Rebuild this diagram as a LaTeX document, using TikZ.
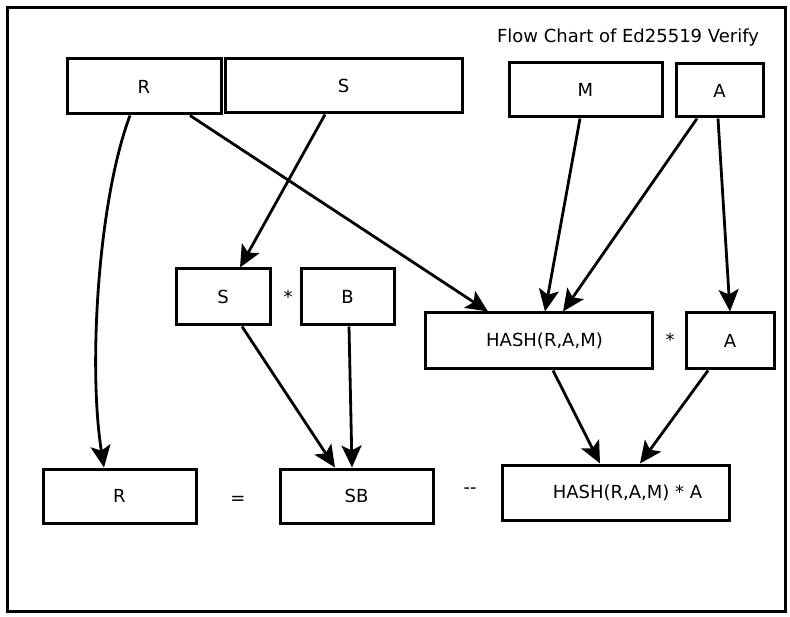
\documentclass[tikz,border=0pt]{standalone}
\usepackage{fontspec}
\setmainfont{DejaVu Sans}
\usetikzlibrary{arrows.meta,calc}
\begin{document}
\begin{tikzpicture}[x=1pt,y=-1pt,
  box/.style={draw,line width=3pt,inner sep=0pt,font=\fontsize{18}{21}\selectfont},
  lbl/.style={inner sep=0pt,font=\fontsize{18}{21}\selectfont},
  arr/.style={line width=2.8pt,-{Stealth[length=22pt,width=20pt,inset=5pt]}}]
\useasboundingbox (0,0) rectangle (790,617);
\draw[line width=3pt] (7,8) rectangle (785,611);
\node[lbl] (title) at (628,38) {Flow Chart of Ed25519 Verify};
% top row
\node[box,minimum width=154pt,minimum height=55pt] (Rt) at (144,86.5) {R};
\node[box,minimum width=237pt,minimum height=54pt] (St) at (343.5,86) {S};
\node[box,minimum width=153pt,minimum height=54pt] (M) at (585.5,90) {M};
\node[box,minimum width=87pt,minimum height=53pt] (At) at (719.5,90.5) {A};
% middle row
\node[box,minimum width=94pt,minimum height=56pt] (Sm) at (223,297) {S};
\node[lbl] (star1) at (288,297) {*};
\node[box,minimum width=93pt,minimum height=56pt] (B) at (347.5,297) {B};
\node[box,minimum width=227pt,minimum height=56pt] (H) at (538.5,341) {\hspace{12pt}HASH(R,A,M)};
\node[lbl] (star2) at (670,340) {*};
\node[box,minimum width=88pt,minimum height=56pt] (Ar) at (730,341) {A};
% bottom row
\node[box,minimum width=153pt,minimum height=54pt] (Rb) at (119.5,496) {R};
\node[lbl] (eq) at (238,500) {=};
\node[box,minimum width=153pt,minimum height=54pt] (SB) at (356.5,496) {SB};
\node[lbl] (dd) at (470,491) {-{}-};
\node[box,minimum width=227pt,minimum height=55pt] (HA) at (615.5,492.5) {\hspace{24pt}HASH(R,A,M) * A};
% connectors
\draw[arr] ([xshift=-14pt]Rt.south) .. controls +(-32,85) and +(-16,-100) .. ([xshift=-15.5pt]Rb.north);
\draw[arr] ([xshift=46pt]Rt.south) -- ([xshift=-50.5pt]H.north);
\draw[arr] ([xshift=-18.5pt]St.south) -- ([xshift=17pt]Sm.north);
\draw[arr] ([xshift=-5.5pt]M.south) -- ([xshift=6.5pt]H.north);
\draw[arr] ([xshift=-22.5pt]At.south) -- ([xshift=24.5pt]H.north);
\draw[arr] ([xshift=-1.5pt]At.south) -- (Ar.north);
\draw[arr] ([xshift=19pt]Sm.south) -- ([xshift=-21.5pt]SB.north);
\draw[arr] ([xshift=1.5pt]B.south) -- ([xshift=-4.5pt]SB.north);
\draw[arr] ([xshift=14.5pt]H.south) -- ([xshift=-15.5pt]HA.north);
\draw[arr] ([xshift=-22pt]Ar.south) -- ([xshift=24.5pt]HA.north);
\end{tikzpicture}
\end{document}
